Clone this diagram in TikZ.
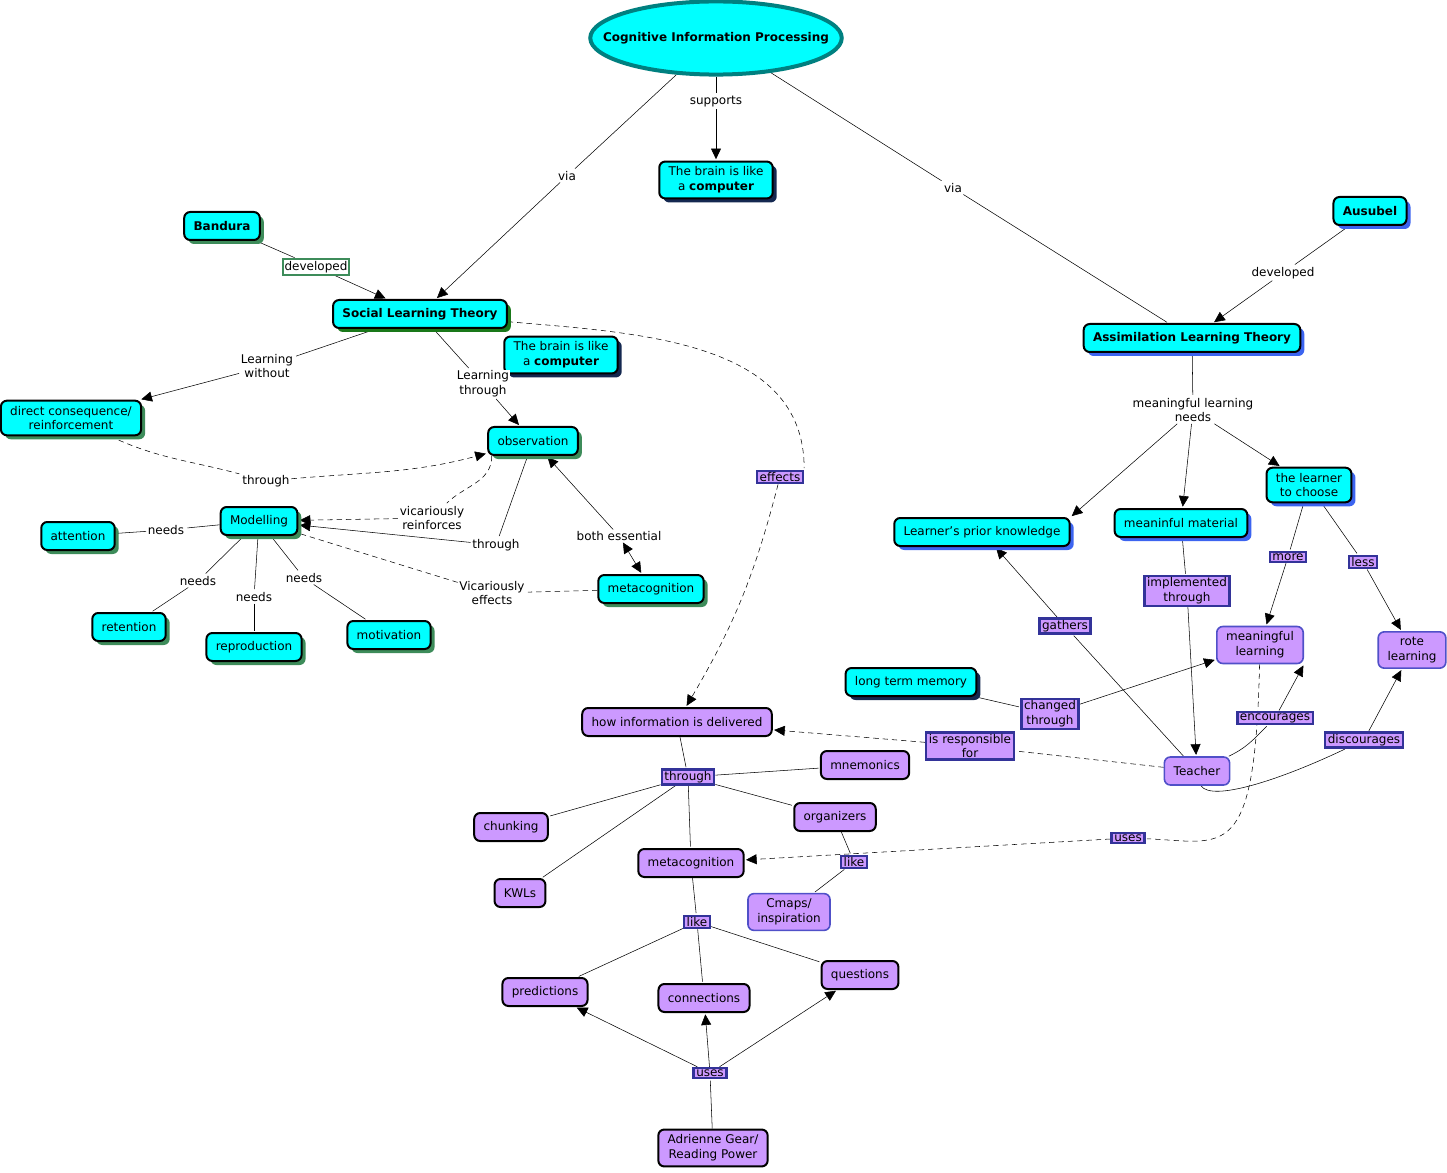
\documentclass[tikz,border=0pt]{standalone}
\usepackage{fontspec}
\setmainfont{DejaVu Sans}
\usepackage{tikz}
\usetikzlibrary{arrows.meta, shapes.geometric, shadows, backgrounds}
\definecolor{cyanfill}{RGB}{0,255,255}
\definecolor{lilac}{RGB}{204,153,255}
\definecolor{navyline}{RGB}{51,51,153}
\definecolor{lilacline}{RGB}{80,80,200}
\definecolor{tealline}{RGB}{0,128,128}
\definecolor{shgreen}{RGB}{61,140,90}
\definecolor{sltgreen}{RGB}{25,120,25}
\definecolor{shdark}{RGB}{20,40,80}
\definecolor{shblue}{RGB}{60,100,240}
\tikzset{
    every node/.style = {font=\fontsize{9}{11}\selectfont},
    concept/.style = {rectangle, rounded corners=4.5pt, draw, line width=1.5pt,
                      fill=cyanfill, align=center, inner xsep=7pt, inner ysep=4pt,
                      minimum height=21pt},
    sgreen/.style = {concept, drop shadow={shadow xshift=3pt, shadow yshift=-3pt, fill=shgreen, opacity=1}},
    sslt/.style = {concept, drop shadow={shadow xshift=3pt, shadow yshift=-3pt, fill=sltgreen, opacity=1}},
    sdark/.style = {concept, drop shadow={shadow xshift=3pt, shadow yshift=-3pt, fill=shdark, opacity=1}},
    sblue/.style = {concept, drop shadow={shadow xshift=3pt, shadow yshift=-3pt, fill=shblue, opacity=1}},
    pconcept/.style = {concept, fill=lilac},
    pconceptb/.style = {concept, fill=lilac, draw=lilacline, line width=1.2pt},
    lbl/.style = {fill=white, inner sep=1pt, align=center},
    glbl/.style = {lbl, draw=shgreen, line width=1.5pt, inner sep=1.5pt},
    plbl/.style = {rectangle, fill=lilac, draw=navyline, line width=1.8pt,
                   inner xsep=2pt, inner ysep=1.2pt, align=center},
    dline/.style = {dash pattern=on 4pt off 3pt}
    }

\begin{document}
\begin{tikzpicture}[
      x = 0.75pt, y = 0.75pt, % one unit is one pixel
      > = {Triangle[length=8pt, width=7.5pt]}, % arrow head style
      shorten > = 1pt, % don't touch arrow head to node
      line width = 0.8pt
    ]

    \path[use as bounding box] (0,0) rectangle (1447,-1173);

    \node[ellipse, draw=tealline, line width=3pt, fill=cyanfill,
          inner xsep=-18pt, inner ysep=15pt] (1) at (716,-38) {\textbf{Cognitive Information Processing}};
    \node[sdark] (2) at (716,-180) {The brain is like\\a \textbf{computer}};
    \node[sgreen] (3) at (222,-226) {\textbf{Bandura}};
    \node[sslt] (4) at (420,-314) {\textbf{Social Learning Theory}};
    \node[sdark] (5) at (561,-355) {The brain is like\\a \textbf{computer}};
    \node[sgreen] (6) at (71,-418) {direct consequence/\\reinforcement};
    \node[sgreen] (7) at (533,-441) {observation};
    \node[sgreen] (8) at (259,-521) {Modelling};
    \node[sgreen] (9) at (78,-536) {attention};
    \node[sgreen] (10) at (129,-627) {retention};
    \node[sgreen] (11) at (254,-647) {reproduction};
    \node[sgreen] (12) at (389,-635) {motivation};
    \node[sgreen] (13) at (651,-589) {metacognition};

    \node[sblue] (14) at (1370,-211) {\textbf{Ausubel}};
    \node[sblue] (15) at (1192,-338) {\textbf{Assimilation Learning Theory}};
    \node[sblue] (16) at (1309,-485) {the learner\\to choose};
    \node[sblue] (17) at (982,-532) {Learner's prior knowledge};
    \node[sblue] (18) at (1181,-523) {meaninful material};
    \node[pconceptb] (19) at (1260,-645) {meaningful\\learning};
    \node[pconceptb] (20) at (1412,-650) {rote\\learning};
    \node[pconceptb] (21) at (1197,-771) {Teacher};
    \node[sdark] (22) at (911,-682) {long term memory};

    \node[pconcept] (23) at (677,-722) {how information is delivered};
    \node[pconcept] (24) at (865,-765) {mnemonics};
    \node[pconcept] (25) at (511,-827) {chunking};
    \node[pconcept] (26) at (835,-817) {organizers};
    \node[pconcept] (27) at (520,-893) {KWLs};
    \node[pconcept] (28) at (691,-863) {metacognition};
    \node[pconceptb] (29) at (789,-912) {Cmaps/\\inspiration};
    \node[pconcept] (30) at (545,-992) {predictions};
    \node[pconcept] (31) at (704,-998) {connections};
    \node[pconcept] (32) at (860,-975) {questions};
    \node[pconcept] (33) at (713,-1148) {Adrienne Gear/\\Reading Power};

    \node[lbl] (34) at (716,-102) {supports};
    \node[lbl] (35) at (567,-176) {via};
    \node[lbl] (36) at (953,-188) {via};
    \node[glbl] (37) at (316,-267) {developed};
    \node[lbl] (38) at (267,-366) {Learning\\without};
    \node[lbl] (39) at (483,-384) {Learning\\through};
    \node[lbl] (40) at (266,-481) {through};
    \node[plbl] (41) at (780,-477) {effects};
    \node[lbl] (42) at (166,-530) {needs};
    \node[lbl] (43) at (198,-581) {needs};
    \node[lbl] (44) at (254,-597) {needs};
    \node[lbl] (45) at (304,-578) {needs};
    \node[lbl] (46) at (432,-518) {vicariously\\reinforces};
    \node[lbl] (47) at (496,-545) {through};
    \node[lbl] (48) at (619,-536) {both essential};
    \node[lbl] (49) at (492,-593) {Vicariously\\effects};

    \node[lbl] (50) at (1283,-273) {developed};
    \node[lbl] (51) at (1193,-410) {meaningful learning\\needs};
    \node[plbl] (52) at (1288,-557) {more};
    \node[plbl] (53) at (1363,-562) {less};
    \node[plbl] (54) at (1187,-591) {implemented\\through};
    \node[plbl] (55) at (1065,-626) {gathers};
    \node[plbl] (56) at (1050,-714) {changed\\through};
    \node[plbl] (57) at (1275,-718) {encourages};
    \node[plbl] (58) at (1364,-740) {discourages};
    \node[plbl] (59) at (970,-746) {is responsible\\for};
    \node[plbl] (60) at (1128,-838) {uses};
    \node[plbl] (61) at (688,-777) {through};
    \node[plbl] (62) at (854,-862) {like};
    \node[plbl] (63) at (697,-922) {like};
    \node[plbl] (64) at (710,-1073) {uses};

    \begin{scope}[on background layer]
    \fill[white] (0,0) rectangle (1447,-1173);

    \path (1) edge  (34);
    \path (34) edge[->]  (2);
    \path (1) edge  (35);
    \path (35) edge[->]  (4);
    \path (1) edge  (36);
    \path (36) edge  (15);

    \path (3) edge  (37);
    \path (37) edge[->]  (4);
    \path (4) edge  (38);
    \path (38) edge[->]  (6);
    \path (4) edge  (39);
    \path (39) edge[->]  (7);
    \path (6) edge[dline, out=-25, in=165]  (40);
    \path (40) edge[->, dline, out=5, in=-165]  (7);
    \path (4) edge[dline, out=-5, in=90]  (41.north east);
    \path (41) edge[->, dline, bend left=8]  (23);

    \path (8) edge  (42);
    \path (42) edge  (9);
    \path (8) edge  (43);
    \path (43) edge  (10);
    \path (8) edge  (44);
    \path (44) edge  (11);
    \path (8) edge  (45);
    \path (45) edge  (12);

    \path (7.-160) edge[dline, out=-90, in=45]  (46);
    \path (46) edge[->, dline]  (8);
    \path (7) edge  (47);
    \path (47) edge[->]  (8);
    \path (48) edge[->]  (7);
    \path (48) edge[<->]  (13);
    \path (13) edge[dline]  (49);
    \path (49) edge[dline]  (8);

    \path (14) edge  (50);
    \path (50) edge[->]  (15);
    \path (15) edge  (51);
    \path (51) edge[->]  (17.north east);
    \path (51) edge[->]  (18);
    \path (51) edge[->]  (16);
    \path (16) edge  (52);
    \path (52) edge[->]  (19);
    \path (16) edge  (53);
    \path (53) edge[->]  (20);
    \path (18) edge  (54);
    \path (54) edge[->]  (21);
    \path (21) edge  (55);
    \path (55) edge[->]  (17);
    \path (22) edge  (56);
    \path (56) edge[->]  (19);
    \path (21) edge[out=25, in=-135]  (57);
    \path (57) edge[->]  (19.south east);
    \draw (21.-75) .. controls (1212,-802) and (1280,-780) .. (58);
    \path (58) edge[->]  (20);
    \path (21) edge[dline]  (59);
    \path (59) edge[->, dline]  (23);
    \draw[dline] (19) .. controls (1255,-865) and (1225,-842) .. (60);
    \path (60) edge[->, dline]  (28);

    \path (23) edge  (61);
    \path (61) edge  (24);
    \path (61) edge  (25);
    \path (61) edge  (26);
    \path (61) edge  (27);
    \path (61) edge  (28);
    \path (26) edge  (62);
    \path (62) edge  (29);
    \path (28) edge  (63);
    \path (63) edge  (30);
    \path (63) edge  (31);
    \path (63) edge  (32);
    \path (33) edge  (64);
    \path (64) edge[->]  (30);
    \path (64) edge[->]  (31);
    \path (64) edge[->]  (32);
    \end{scope}
\end{tikzpicture}
\end{document}
